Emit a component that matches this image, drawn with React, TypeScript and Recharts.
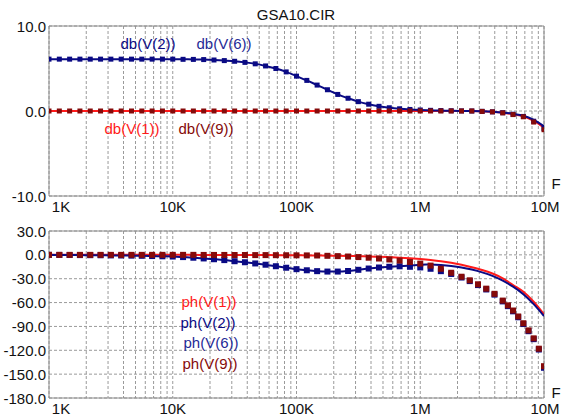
import React from 'react';
import { LineChart, Line, XAxis, YAxis, CartesianGrid, ReferenceArea } from 'recharts';

// frequency points (12 per decade, 1K .. 10M)
const FREQ = [
  1000, 1212, 1468, 1778, 2154, 2610, 3162, 3831, 4642, 5623, 6813, 8254,
  10000, 12115, 14678, 17783, 21544, 26102, 31623, 38312, 46416, 56234, 68129, 82540,
  100000, 121153, 146780, 177828, 215443, 261016, 316228, 383119, 464159, 562341, 681292, 825404,
  1000000, 1211528, 1467799, 1778279, 2154435, 2610157, 3162278, 3831187, 4641589, 5623413, 6812921, 8254042,
  10000000,
];

// marker points of the phase traces V(6), V(9): denser where the curve falls fast
const FREQ_PH_MK = [
  1000, 1212, 1468, 1778, 2154, 2610, 3162, 3831, 4642, 5623, 6813, 8254,
  10000, 12115, 14678, 17783, 21544, 26102, 31623, 38312, 46416, 56234, 68129, 82540,
  100000, 121153, 146780, 177828, 215443, 261016, 316228, 383119, 464159, 562341, 681292, 825404,
  1000000, 1211528, 1467799, 1778279, 2154435, 2511886, 2928645, 3414549, 3981072, 4641589,
  5108970, 5623413, 6189658, 6812921, 7498942, 8254042, 9085176, 10000000,
];

const X_TICKS = [
  1000, 2000, 3000, 4000, 5000, 6000, 7000, 8000, 9000,
  10000, 20000, 30000, 40000, 50000, 60000, 70000, 80000, 90000,
  100000, 200000, 300000, 400000, 500000, 600000, 700000, 800000, 900000,
  1000000, 2000000, 3000000, 4000000, 5000000, 6000000, 7000000, 8000000, 9000000,
  10000000,
];
const X_LABELS: Record<number, string> = { 1000: '1K', 10000: '10K', 100000: '100K', 1000000: '1M', 10000000: '10M' };

const DB_TICKS = [-10, 0, 10];
const PH_TICKS = [-180, -150, -120, -90, -60, -30, 0, 30];

// magnitude, dB
const DB_V1 = [
  0, 0, 0, 0, 0, 0, 0, 0, 0, 0, 0, 0,
  0, 0, 0, 0, 0, 0, 0, 0, 0, 0, 0, 0,
  0, 0, 0, 0, 0, 0, 0, 0, 0, 0, 0, 0,
  0, 0, 0, 0, 0, 0, -0.05, -0.1, -0.2, -0.38, -0.62, -1.15,
  -1.95,
];
const DB_V2 = [
  6.1, 6.1, 6.1, 6.1, 6.1, 6.1, 6.1, 6.1, 6.1, 6.1, 6.1, 6.1,
  6.1, 6.08, 6.07, 6.05, 6.0, 5.93, 5.85, 5.72, 5.55, 5.3, 5.0, 4.6,
  4.1, 3.6, 3.05, 2.5, 1.95, 1.5, 1.1, 0.8, 0.55, 0.38, 0.26, 0.18,
  0.12, 0.08, 0.05, 0.03, 0.01, 0, -0.03, -0.08, -0.17, -0.33, -0.56, -1.05,
  -1.8,
];
const DB_V6 = [
  6.1, 6.1, 6.1, 6.1, 6.1, 6.1, 6.1, 6.1, 6.1, 6.1, 6.1, 6.1,
  6.1, 6.08, 6.07, 6.05, 6.0, 5.93, 5.85, 5.72, 5.55, 5.3, 5.0, 4.6,
  4.1, 3.6, 3.05, 2.5, 1.95, 1.5, 1.1, 0.8, 0.55, 0.38, 0.26, 0.18,
  0.12, 0.08, 0.05, 0.03, 0.01, 0, -0.04, -0.1, -0.2, -0.38, -0.64, -1.2,
  -2.05,
];
const DB_V9 = [
  0, 0, 0, 0, 0, 0, 0, 0, 0, 0, 0, 0,
  0, 0, 0, 0, 0, 0, 0, 0, 0, 0, 0, 0,
  0, 0, 0, 0, 0, 0, 0, 0, 0, 0, 0, 0,
  0, 0, 0, 0, 0, 0, -0.05, -0.1, -0.22, -0.42, -0.68, -1.3,
  -2.2,
];

// phase, degrees
const PH_V1 = [
  0, 0, 0, 0, 0, 0, 0, 0, 0, 0, 0, 0,
  0, 0, 0, -0.1, -0.1, -0.1, -0.2, -0.2, -0.3, -0.3, -0.4, -0.5,
  -0.6, -0.7, -0.8, -1.0, -1.2, -1.4, -1.7, -2.0, -2.4, -2.9, -3.5, -4.3,
  -5.3, -6.5, -8, -10, -12.5, -15.5, -19, -23.5, -29.5, -38, -46.5, -59,
  -75,
];
const PH_V2 = [
  0, -0.1, -0.2, -0.3, -0.4, -0.5, -0.7, -0.8, -1.0, -1.2, -1.5, -1.8,
  -2.1, -2.8, -3.6, -4.5, -5.5, -6.6, -8, -9.3, -10.8, -12.4, -14.3, -16.2,
  -18, -19.4, -20.5, -21, -21, -20.3, -18.8, -17.2, -15.9, -15.0, -14.2, -13.5,
  -12.3, -12.2, -12.8, -14, -15.8, -18.5, -22, -26.5, -32.5, -40, -49.5, -62,
  -77,
];
// on FREQ_PH_MK
const PH_V6 = [
  0, -0.1, -0.2, -0.3, -0.4, -0.5, -0.7, -0.8, -1.0, -1.2, -1.5, -1.8,
  -2.1, -2.8, -3.6, -4.5, -5.5, -6.6, -8, -9.3, -10.8, -12.4, -14.3, -16.2,
  -18, -19.4, -20.5, -21, -21, -20.3, -18.8, -17.2, -15.9, -15.0, -14.4, -15.0,
  -15.8, -17.5, -20.5, -24, -28.5, -33, -38, -43.5, -50, -58.5,
  -64.5, -71, -78.5, -87, -96, -106, -119, -142,
];
const PH_V9 = [
  0, 0, 0, 0, 0, 0, 0, 0, 0, 0, 0, 0,
  0, 0, 0, -0.1, -0.1, -0.1, -0.2, -0.2, -0.3, -0.3, -0.4, -0.5,
  -0.6, -0.7, -0.8, -1.2, -1.6, -2.1, -2.8, -3.6, -4.6, -5.8, -7.2, -9,
  -11, -13.5, -17.5, -22.5, -27.5, -32, -37, -42.5, -49, -57.5,
  -63.5, -70, -77.5, -86, -95, -105, -118, -140,
];

const RED = '#ff1a1a';
const NAVY = '#0a0a84';
const BLUE = '#1f2a96';
const MAROON = '#850a0a';
const FONT = '"Liberation Sans", Arial, sans-serif';

const toRows = (freq: number[], vals: number[]) => freq.map((f, i) => ({ f, v: vals[i] }));

const squareDot = (color: string, size: number) => (props: any) => {
  const { cx, cy, index } = props;
  if (cx == null || cy == null) return <g key={`d-${index}`} />;
  return <rect key={`d-${index}`} x={cx - size / 2} y={cy - size / 2} width={size} height={size} fill={color} />;
};

const xTick = (plotBottom: number) => (props: any) => {
  const { x, payload } = props;
  const label = X_LABELS[payload.value];
  if (!label) return <g />;
  const dx = payload.value === 1000 ? 12 : payload.value === 10000000 ? 1 : 0;
  return (
    <text x={x + dx} y={plotBottom + 10} textAnchor="middle" dominantBaseline="central"
      fontFamily={FONT} fontSize={15} fill="#111">
      {label}
    </text>
  );
};

const yTick = (props: any) => {
  const { y, payload } = props;
  return (
    <text x={46} y={y} textAnchor="end" dominantBaseline="central" fontFamily={FONT} fontSize={15} fill="#111">
      {Number(payload.value).toFixed(1)}
    </text>
  );
};

type Trace = { freq: number[]; vals: number[]; color: string };

interface PanelProps {
  top: number;
  height: number;
  yDomain: [number, number];
  yTicks: number[];
  dotSize: number;
  lines: Trace[];
  markers: Trace[];
}

const Panel: React.FC<PanelProps> = ({ top, height, yDomain, yTicks, dotSize, lines, markers }) => {
  const xH = 19;
  const plotBottom = height - xH;
  return (
    <div style={{ position: 'absolute', left: 0, top }}>
      <LineChart width={563} height={height} margin={{ top: 26, right: 19, bottom: 0, left: 0 }}>
        <CartesianGrid stroke="#9a9a9a" strokeDasharray="3 2" />
        <XAxis dataKey="f" type="number" scale="log" domain={[1000, 10000000]} ticks={X_TICKS}
          interval={0} allowDataOverflow tickLine={false} axisLine={false} height={xH} tick={xTick(plotBottom)} />
        <YAxis type="number" domain={yDomain} ticks={yTicks} interval={0} allowDataOverflow
          tickLine={false} axisLine={false} width={49} tick={yTick} />
        <ReferenceArea x1={1000} x2={10000000} y1={yDomain[0]} y2={yDomain[1]}
          fill="none" fillOpacity={0} stroke="#8c8c8c" strokeWidth={1} ifOverflow="visible" />
        {markers.map((m, i) => (
          <Line key={`m${i}`} data={toRows(m.freq, m.vals)} dataKey="v" stroke="none" isAnimationActive={false}
            dot={squareDot(m.color, dotSize)} activeDot={false} />
        ))}
        {lines.map((l, i) => (
          <Line key={`l${i}`} data={toRows(l.freq, l.vals)} dataKey="v" type="monotone" stroke={l.color}
            strokeWidth={2} dot={false} activeDot={false} isAnimationActive={false} />
        ))}
      </LineChart>
    </div>
  );
};

const labelStyle = { fontFamily: FONT, fontSize: 15 };

export default function App() {
  return (
    <div style={{ position: 'absolute', left: 0, top: 0, width: 563, height: 416, background: '#fff', overflow: 'hidden' }}>
      <Panel top={0} height={215} yDomain={[-10, 10]} yTicks={DB_TICKS} dotSize={5}
        markers={[{ freq: FREQ, vals: DB_V6, color: NAVY }, { freq: FREQ, vals: DB_V9, color: MAROON }]}
        lines={[{ freq: FREQ, vals: DB_V1, color: RED }, { freq: FREQ, vals: DB_V2, color: NAVY }]} />
      <Panel top={205} height={212} yDomain={[-180, 30]} yTicks={PH_TICKS} dotSize={6}
        markers={[{ freq: FREQ_PH_MK, vals: PH_V6, color: NAVY }, { freq: FREQ_PH_MK, vals: PH_V9, color: MAROON }]}
        lines={[{ freq: FREQ, vals: PH_V1, color: RED }, { freq: FREQ, vals: PH_V2, color: NAVY }]} />
      <svg width={563} height={416} style={{ position: 'absolute', left: 0, top: 0, pointerEvents: 'none' }}>
        <text x={296} y={14} textAnchor="middle" dominantBaseline="central" {...labelStyle} fill="#111">GSA10.CIR</text>
        <text x={556} y={183} textAnchor="middle" dominantBaseline="central" {...labelStyle} fill="#111">F</text>
        <text x={556} y={392} textAnchor="middle" dominantBaseline="central" {...labelStyle} fill="#111">F</text>
        <text x={148} y={43} textAnchor="middle" dominantBaseline="central" {...labelStyle} fill={NAVY}>db(V(2))</text>
        <text x={224} y={43} textAnchor="middle" dominantBaseline="central" {...labelStyle} fill={BLUE}>db(V(6))</text>
        <text x={132} y={128} textAnchor="middle" dominantBaseline="central" {...labelStyle} fill={RED}>db(V(1))</text>
        <text x={206} y={128} textAnchor="middle" dominantBaseline="central" {...labelStyle} fill={MAROON}>db(V(9))</text>
        <text x={209} y={301} textAnchor="middle" dominantBaseline="central" {...labelStyle} fill={RED}>ph(V(1))</text>
        <text x={208} y={322} textAnchor="middle" dominantBaseline="central" {...labelStyle} fill={NAVY}>ph(V(2))</text>
        <text x={211} y={342} textAnchor="middle" dominantBaseline="central" {...labelStyle} fill={BLUE}>ph(V(6))</text>
        <text x={210} y={363} textAnchor="middle" dominantBaseline="central" {...labelStyle} fill={MAROON}>ph(V(9))</text>
      </svg>
    </div>
  );
}
